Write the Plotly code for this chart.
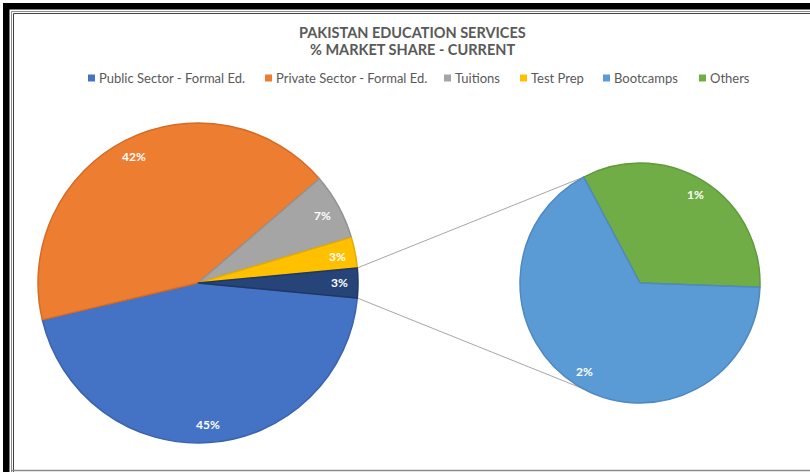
import math
import plotly.graph_objects as go

# ---------------- data ----------------
main_categories = ["Public Sector - Formal Ed.", "Private Sector - Formal Ed.", "Tuitions", "Test Prep"]
main_values = [44.8, 42.4, 6.7, 3.1]
second_categories = ["Bootcamps", "Others"]
second_values = [2.0, 1.0]
other_label = "Other"

title_lines = ["PAKISTAN EDUCATION SERVICES", "% MARKET SHARE - CURRENT"]
legend_labels = main_categories + second_categories

# ---------------- style / layout ----------------
W, H = 810, 472
FONT = "Lato, 'Open Sans', sans-serif"
colors = {
    "Public Sector - Formal Ed.": "#4472C4",
    "Private Sector - Formal Ed.": "#ED7D31",
    "Tuitions": "#A5A5A5",
    "Test Prep": "#FFC000",
    "Other": "#264478",
    "Bootcamps": "#5B9BD5",
    "Others": "#70AD47",
}
edge = {
    "Public Sector - Formal Ed.": "#3B63AD",
    "Private Sector - Formal Ed.": "#D46C26",
    "Tuitions": "#939393",
    "Test Prep": "#E5AC00",
    "Other": "#1E3864",
    "Bootcamps": "#4E89C0",
    "Others": "#5F9A3B",
}
C1 = (198.0, 283.0); R1 = 160.0   # main pie centre/radius in px
C2 = (640.0, 283.0); R2 = 120.0   # secondary pie
SECOND_START = 118.0              # math angle (deg) where secondary pie starts
LEGEND_X = [88, 265, 444, 520, 603, 699]   # legend swatch left edges (px)
LEGEND_Y = 78


def px(x):
    return x / W


def py(y):
    return 1 - y / H


total = sum(main_values) + sum(second_values)
other_value = sum(second_values)

main_labels = main_categories + [other_label]
main_vals = main_values + [other_value]

# main pie: clockwise, "Other" slice centred at 3 o'clock
other_frac = other_value / total
rot_main = 90 + other_frac * 360 / 2
# secondary pie: clockwise, Others first, starting at SECOND_START
sec_labels = list(reversed(second_categories))
sec_vals = list(reversed(second_values))
rot_second = 90 - SECOND_START

fig = go.Figure()

fig.add_trace(go.Pie(
    labels=main_labels, values=main_vals, sort=False, direction="clockwise",
    rotation=rot_main, textinfo="none", showlegend=False,
    marker=dict(colors=[colors[l] for l in main_labels],
                line=dict(color=[edge[l] for l in main_labels], width=1.5)),
    domain=dict(x=[px(C1[0] - R1), px(C1[0] + R1)], y=[py(C1[1] + R1), py(C1[1] - R1)]),
))
fig.add_trace(go.Pie(
    labels=sec_labels, values=sec_vals, sort=False, direction="clockwise",
    rotation=rot_second, textinfo="none", showlegend=False,
    marker=dict(colors=[colors[l] for l in sec_labels],
                line=dict(color=[edge[l] for l in sec_labels], width=1.5)),
    domain=dict(x=[px(C2[0] - R2), px(C2[0] + R2)], y=[py(C2[1] + R2), py(C2[1] - R2)]),
))

annotations = []
label_font = dict(family=FONT, size=12, color="white", weight="bold")


def slice_labels(center, radius, start_deg, labels, vals, frac):
    out = []
    ang = start_deg
    s = sum(vals)
    for lab, v in zip(labels, vals):
        sweep = v / s * 360
        a0, a1 = ang, ang - sweep
        mid = math.radians((a0 + a1) / 2)
        x = center[0] + frac * radius * math.cos(mid)
        y = center[1] - frac * radius * math.sin(mid)
        annotations.append(dict(x=px(x), y=py(y), xref="paper", yref="paper",
                                xanchor="center", yanchor="middle",
                                text=f"{round(v / total * 100)}%", showarrow=False,
                                font=label_font))
        out.append((lab, a0, a1))
        ang = a1
    return out


main_edges = slice_labels(C1, R1, 90 - rot_main, main_labels, main_vals, 0.885)
slice_labels(C2, R2, SECOND_START, sec_labels, sec_vals, 0.87)

shapes = []
# connector lines from "Other" slice edges to secondary pie
_, oa0, oa1 = main_edges[-1]
hi, lo = math.radians(max(oa0, oa1)), math.radians(min(oa0, oa1))
p_top = (C1[0] + R1 * math.cos(hi), C1[1] - R1 * math.sin(hi))
p_bot = (C1[0] + R1 * math.cos(lo), C1[1] - R1 * math.sin(lo))
s2 = math.radians(SECOND_START)
q_top = (C2[0] + R2 * math.cos(s2), C2[1] - R2 * math.sin(s2))
q_bot = (C2[0] + R2 * math.cos(-s2), C2[1] - R2 * math.sin(-s2))
for p, q in [(p_top, q_top), (p_bot, q_bot)]:
    shapes.append(dict(type="line", xref="paper", yref="paper",
                       x0=px(p[0]), y0=py(p[1]), x1=px(q[0]), y1=py(q[1]),
                       line=dict(color="#A6A6A6", width=1), layer="below"))

# legend (swatches + text)
for lx, name in zip(LEGEND_X, legend_labels):
    shapes.append(dict(type="rect", xref="paper", yref="paper",
                       x0=px(lx), x1=px(lx + 7), y0=py(LEGEND_Y + 3.5), y1=py(LEGEND_Y - 3.5),
                       fillcolor=colors[name], line=dict(width=0)))
    annotations.append(dict(x=px(lx + 9), y=py(LEGEND_Y), xref="paper", yref="paper",
                            xanchor="left", yanchor="middle", text=name, showarrow=False,
                            font=dict(family=FONT, size=13, color="#595959")))

# title
for i, line in enumerate(title_lines):
    annotations.append(dict(x=px(412), y=py(32 + 18 * i), xref="paper", yref="paper",
                            xanchor="center", yanchor="middle", text=line, showarrow=False,
                            font=dict(family=FONT, size=14.5, color="#595959", weight="bold")))

# outer frame
shapes += [
    dict(type="rect", xref="paper", yref="paper", x0=px(3), x1=px(W + 5), y0=py(9.5), y1=py(3),
         fillcolor="black", line=dict(width=0)),
    dict(type="rect", xref="paper", yref="paper", x0=px(3), x1=px(9.5), y0=py(H + 5), y1=py(3),
         fillcolor="black", line=dict(width=0)),
    dict(type="line", xref="paper", yref="paper", x0=px(11.5), x1=px(W + 5), y0=py(11.5), y1=py(11.5),
         line=dict(color="#8C8C8C", width=1)),
    dict(type="line", xref="paper", yref="paper", x0=px(11.5), x1=px(11.5), y0=py(11.5), y1=py(H + 5),
         line=dict(color="#8C8C8C", width=1)),
    dict(type="line", xref="paper", yref="paper", x0=px(13.5), x1=px(W + 5), y0=py(13.5), y1=py(13.5),
         line=dict(color="#404040", width=1)),
    dict(type="line", xref="paper", yref="paper", x0=px(13.5), x1=px(13.5), y0=py(13.5), y1=py(H + 5),
         line=dict(color="#404040", width=1)),
    dict(type="line", xref="paper", yref="paper", x0=px(11.5), x1=px(W + 5), y0=py(470.5), y1=py(470.5),
         line=dict(color="#8C8C8C", width=1.5)),
]

fig.update_layout(
    width=W, height=H,
    margin=dict(l=0, r=0, t=0, b=0),
    paper_bgcolor="white", plot_bgcolor="white",
    xaxis=dict(visible=False), yaxis=dict(visible=False),
    annotations=annotations, shapes=shapes,
    showlegend=False,
)

fig.write_html("out.html")
